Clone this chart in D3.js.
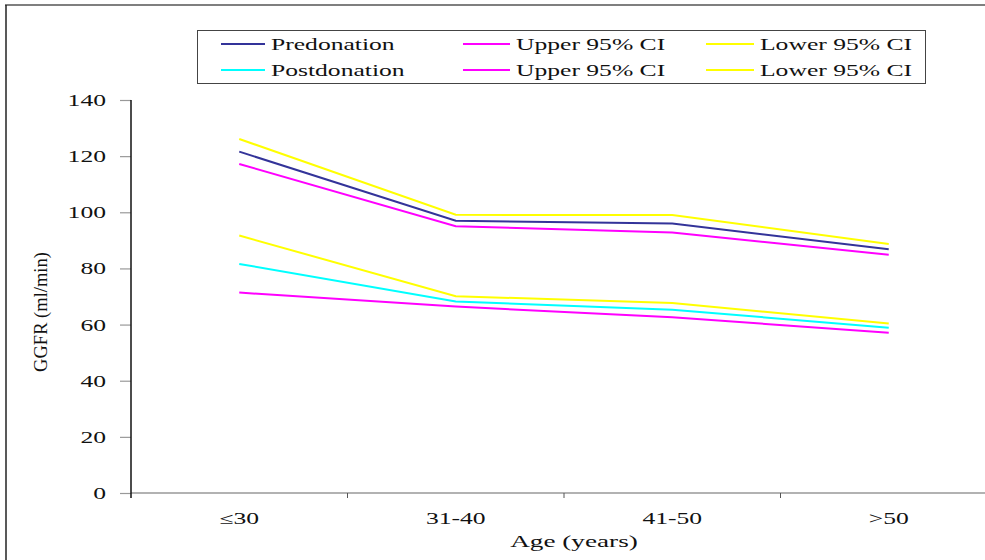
<!DOCTYPE html>
<html>
<head>
<meta charset="utf-8">
<script src="https://cdn.jsdelivr.net/npm/d3@7"></script>
<style>
  html, body { margin: 0; padding: 0; background: #fff; }
  svg { display: block; }
</style>
</head>
<body>
<svg id="chart" width="985" height="560"></svg>
<script>
const categories = ["\u226430", "31-40", "41-50", ">50"];
const predonation      = [121.6, 97.0, 96.0, 86.8];
const preUpper         = [117.2, 95.0, 92.8, 84.9];
const preLower         = [126.1, 99.1, 99.0, 88.7];
const postdonation     = [81.6, 68.2, 65.3, 58.9];
const postUpper        = [71.4, 66.4, 62.6, 57.1];
const postLower        = [91.7, 70.1, 67.7, 60.4];
const yTicks = [0, 20, 40, 60, 80, 100, 120, 140];

const series = [
  { name: "Predonation",  values: predonation,  color: "#333399" },
  { name: "Upper 95% CI", values: preUpper,     color: "#FF00FF" },
  { name: "Lower 95% CI", values: preLower,     color: "#FFFF00" },
  { name: "Postdonation", values: postdonation, color: "#00FFFF" },
  { name: "Upper 95% CI", values: postUpper,    color: "#FF00FF" },
  { name: "Lower 95% CI", values: postLower,    color: "#FFFF00" }
];

const FONT = "'Liberation Serif', 'Times New Roman', Times, serif";
const SX = 1.6;
const svg = d3.select("#chart").attr("font-family", FONT);

function txt(sel) {
  return sel.style("font-family", FONT).attr("fill", "#111");
}

// outer frame
svg.append("line").attr("x1", 5).attr("x2", 985).attr("y1", 5).attr("y2", 5)
  .attr("stroke", "#555").attr("stroke-width", 1.5);
svg.append("line").attr("x1", 6).attr("x2", 6).attr("y1", 5).attr("y2", 560)
  .attr("stroke", "#222").attr("stroke-width", 1.5);

const x = d3.scaleBand().domain(categories).range([131, 997]);
const y = d3.scaleLinear().domain([0, 140]).range([493, 100]);

// x axis
const xAxisG = svg.append("g").attr("transform", "translate(0,493)");
xAxisG.append("line").attr("x1", 131).attr("x2", 985).attr("y1", 0).attr("y2", 0)
  .attr("stroke", "#999").attr("stroke-width", 1.5);
const xTickPos = categories.map(c => x(c)).slice(1);
xAxisG.selectAll("line.tk").data(xTickPos).enter().append("line")
  .attr("class", "tk").attr("x1", d => d).attr("x2", d => d)
  .attr("y1", 0).attr("y2", 5).attr("stroke", "#555").attr("stroke-width", 1);
txt(xAxisG.selectAll("text.cat").data(categories).enter().append("text")
  .attr("class", "cat")
  .attr("transform", d => `translate(${x(d) + x.bandwidth() / 2},31) scale(${SX},1)`)
  .attr("text-anchor", "middle")
  .style("font-size", "16px")
  .text(d => d));

// y axis
const yAxis = d3.axisLeft(y).tickValues(yTicks).tickSize(11).tickSizeOuter(0);
const yAxisG = svg.append("g").attr("transform", "translate(131,0)").call(yAxis)
  .attr("font-family", FONT);
yAxisG.select(".domain").remove();
yAxisG.selectAll(".tick line").attr("stroke", "#999").attr("stroke-width", 1.2);
txt(yAxisG.selectAll(".tick text")
  .attr("x", null).attr("dy", null)
  .attr("transform", `translate(-25,5.5) scale(${SX},1)`)
  .attr("text-anchor", "end")
  .style("font-size", "16px"));
svg.append("line").attr("x1", 131).attr("x2", 131).attr("y1", 100).attr("y2", 498)
  .attr("stroke", "#111").attr("stroke-width", 1.5);

// axis titles
txt(svg.append("text")
  .attr("transform", "translate(47,312) rotate(-90)")
  .attr("text-anchor", "middle")
  .style("font-size", "18.5px")
  .text("GGFR (ml/min)"));
txt(svg.append("text")
  .attr("transform", `translate(574,547) scale(${SX},1)`)
  .attr("text-anchor", "middle")
  .style("font-size", "17px")
  .text("Age (years)"));

// lines
const line = d3.line()
  .x((d, i) => x(categories[i]) + x.bandwidth() / 2)
  .y(d => y(d));
const drawOrder = [3, 4, 5, 0, 1, 2];
drawOrder.forEach(i => {
  svg.append("path").datum(series[i].values)
    .attr("d", line)
    .attr("fill", "none")
    .attr("stroke", series[i].color)
    .attr("stroke-width", 2);
});

// legend
const lg = svg.append("g");
lg.append("rect").attr("x", 197.5).attr("y", 30.5).attr("width", 728).attr("height", 53)
  .attr("fill", "#fff").attr("stroke", "#444").attr("stroke-width", 1);
const colX = [221, 463, 706];
const colLen = [44, 47, 48];
const rowY = [44, 70];
series.forEach((s, i) => {
  const col = i % 3, row = Math.floor(i / 3);
  const lx = colX[col], ly = rowY[row];
  lg.append("line").attr("x1", lx).attr("x2", lx + colLen[col])
    .attr("y1", ly).attr("y2", ly)
    .attr("stroke", s.color).attr("stroke-width", 2);
  txt(lg.append("text")
    .attr("transform", `translate(${lx + colLen[col] + 6},${ly + 5.5}) scale(${SX},1)`)
    .style("font-size", "16px")
    .text(s.name));
});
</script>
</body>
</html>
